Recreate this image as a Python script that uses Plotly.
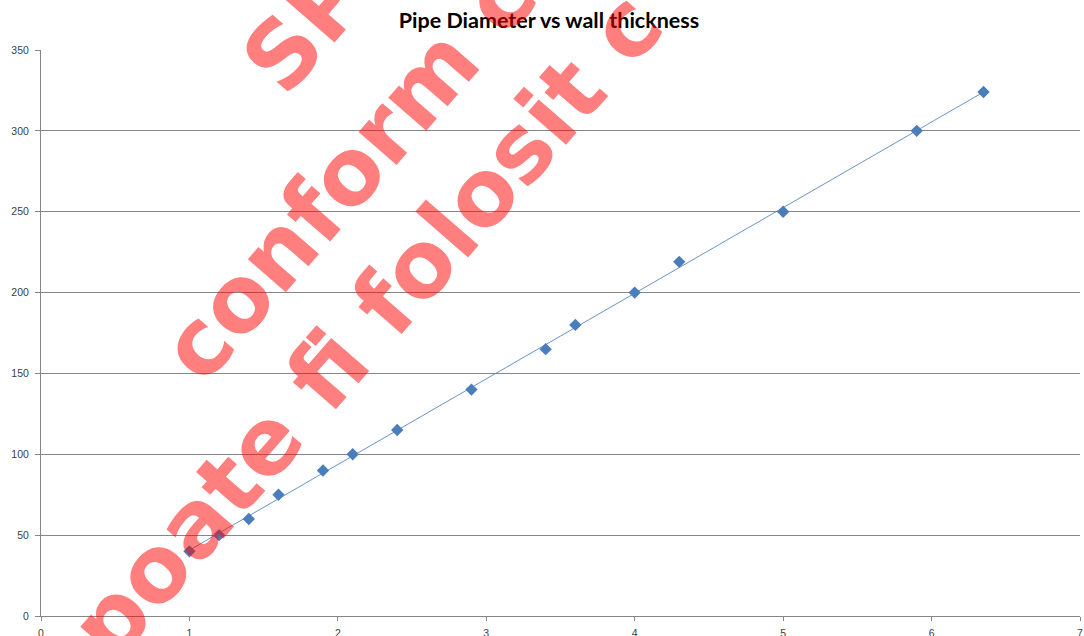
import numpy as np
import plotly.graph_objects as go

# Data
wall_thickness = [1.0, 1.2, 1.4, 1.6, 1.9, 2.1, 2.4, 2.9, 3.4, 3.6, 4.0, 4.3, 5.0, 5.9, 6.35]
pipe_diameter = [40, 50, 60, 75, 90, 100, 115, 140, 165, 180, 200, 219, 250, 300, 324]
x_ticks = [0, 1, 2, 3, 4, 5, 6, 7]
y_ticks = [0, 50, 100, 150, 200, 250, 300, 350]
title_text = "Pipe Diameter vs wall thickness"
watermark_lines = ["SP", "conform c", "poate fi folosit c"]

W, H = 1084, 636
L, R, T, B = 41, 4, 50, 20

# linear trendline (least squares) over the data range
slope, intercept = np.polyfit(wall_thickness, pipe_diameter, 1)
tx = [min(wall_thickness), max(wall_thickness)]
ty = [slope * v + intercept for v in tx]

fig = go.Figure()
fig.add_trace(go.Scatter(
    x=tx, y=ty, mode="lines",
    line=dict(color="rgba(79,129,189,0.85)", width=1),
    hoverinfo="skip", showlegend=False))
fig.add_trace(go.Scatter(
    x=wall_thickness, y=pipe_diameter, mode="markers",
    marker=dict(symbol="diamond", size=9.5, color="#4A7EBB",
                line=dict(width=0)),
    showlegend=False))

def px2paper(px, py):
    return (px - L) / (W - L - R), (H - B - py) / (H - T - B)

wm_centers = [(306, 28), (348, 172), (366, 326)]
annotations = []
for txt, (cx, cy) in zip(watermark_lines, wm_centers):
    xp, yp = px2paper(cx, cy)
    annotations.append(dict(
        text=txt, x=xp, y=yp, xref="paper", yref="paper",
        xanchor="center", yanchor="middle", showarrow=False,
        textangle=-49,
        font=dict(family="DejaVu Sans", size=92, color="rgba(255,0,0,0.5)",
                  weight="bold")))

fig.update_layout(
    width=W, height=H,
    margin=dict(l=L, r=R, t=T, b=B, pad=0),
    paper_bgcolor="white", plot_bgcolor="white",
    title=dict(text="<b>" + title_text + "</b>", x=549 / W, xanchor="center",
               y=1 - 20 / H, yanchor="middle", xref="container", yref="container",
               font=dict(family="Lato", size=21.5, color="#000000")),
    xaxis=dict(range=[0, 7], tickvals=x_ticks, ticktext=[str(v) for v in x_ticks],
               showgrid=False, zeroline=False, showline=True, linecolor="#868686",
               linewidth=1, ticks="outside", ticklen=4, tickcolor="#868686",
               ticklabelstandoff=3, automargin=False,
               tickfont=dict(family="Liberation Sans", size=10.5, color="#404040"),
               fixedrange=True),
    yaxis=dict(range=[0, 350], tickvals=y_ticks, ticktext=[str(v) for v in y_ticks],
               showgrid=True, gridcolor="#868686", gridwidth=1,
               zeroline=False, showline=True, linecolor="#868686",
               linewidth=1, ticks="outside", ticklen=5, tickcolor="#868686",
               ticklabelstandoff=4, automargin=False,
               tickfont=dict(family="Liberation Sans", size=10.5, color="#404040"),
               fixedrange=True),
    annotations=annotations,
)

fig.write_html("out.html",
               config={"displayModeBar": False},
               post_script="document.body.style.margin='0';document.body.style.overflow='hidden';")
